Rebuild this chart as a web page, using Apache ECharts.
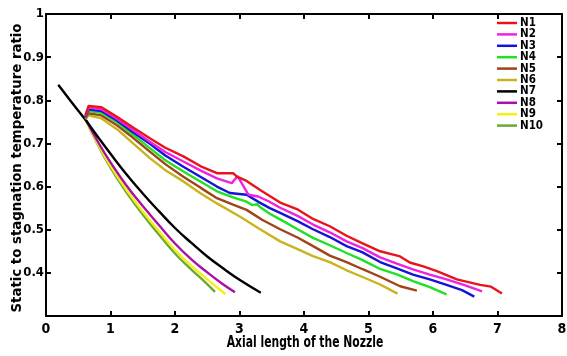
<!DOCTYPE html>
<html>
<head>
<meta charset="utf-8">
<script src="https://cdn.jsdelivr.net/npm/echarts@6/dist/echarts.min.js"></script>
<style>html,body{margin:0;padding:0;background:#fff}#c{width:567px;height:356px}</style>
</head>
<body>
<div id="c"></div>
<script>
var seriesNames = ['N1','N2','N3','N4','N5','N6','N7','N8','N9','N10'];
var seriesColors = ['#e8141c','#f022e0','#1414d8','#22e022','#a04418','#c8b41e','#000000','#a810a8','#f4f014','#6aa838'];
var xTicks = [0,1,2,3,4,5,6,7,8];
var yTicks = [0.3,0.4,0.5,0.6,0.7,0.8,0.9,1.0];
var xTitle = 'Axial length of the Nozzle';
var yTitle = 'Static to stagnation temperature ratio';

var n1X = [0.61,0.66,0.86,1.1,1.35,1.61,1.85,2.13,2.4,2.65,2.9,2.96,3.11,3.32,3.63,3.89,4.14,4.4,4.66,4.9,5.18,5.49,5.64,5.85,6.06,6.37,6.73,6.9,7.07];
var n1Y = [0.765,0.787,0.784,0.762,0.737,0.712,0.690,0.670,0.647,0.631,0.631,0.623,0.613,0.592,0.563,0.548,0.525,0.508,0.486,0.469,0.450,0.438,0.424,0.415,0.404,0.385,0.372,0.368,0.352];
var n2X = [0.61,0.66,0.86,1.1,1.35,1.61,1.85,2.13,2.4,2.65,2.88,2.97,3.14,3.29,3.45,3.63,3.9,4.14,4.4,4.66,4.9,5.18,5.45,5.69,5.95,6.21,6.5,6.76];
var n2Y = [0.763,0.783,0.779,0.757,0.731,0.704,0.680,0.658,0.637,0.619,0.608,0.624,0.581,0.577,0.566,0.551,0.532,0.512,0.494,0.473,0.458,0.436,0.421,0.408,0.396,0.385,0.371,0.357];
var n3X = [0.61,0.66,0.86,1.1,1.35,1.61,1.85,2.13,2.4,2.65,2.85,3.11,3.3,3.47,3.63,3.9,4.14,4.4,4.66,4.9,5.18,5.45,5.69,5.95,6.21,6.45,6.64];
var n3Y = [0.761,0.779,0.775,0.753,0.726,0.699,0.672,0.646,0.622,0.600,0.585,0.581,0.564,0.550,0.539,0.520,0.501,0.483,0.462,0.448,0.425,0.410,0.396,0.385,0.372,0.360,0.345];
var n4X = [0.61,0.66,0.86,1.1,1.35,1.61,1.85,2.13,2.4,2.65,2.9,3.11,3.2,3.27,3.35,3.47,3.63,3.9,4.14,4.4,4.66,4.9,5.18,5.45,5.69,5.95,6.21];
var n4Y = [0.760,0.775,0.771,0.749,0.720,0.689,0.661,0.635,0.611,0.589,0.575,0.565,0.557,0.559,0.549,0.537,0.524,0.501,0.481,0.464,0.446,0.430,0.409,0.396,0.381,0.367,0.350];
var n5X = [0.61,0.66,0.86,1.1,1.35,1.61,1.85,2.13,2.4,2.65,2.9,3.11,3.35,3.63,3.9,4.14,4.4,4.66,4.9,5.18,5.49,5.75];
var n5Y = [0.758,0.770,0.765,0.742,0.713,0.681,0.652,0.623,0.597,0.573,0.558,0.546,0.523,0.501,0.482,0.462,0.440,0.425,0.409,0.391,0.369,0.359];
var n6X = [0.61,0.66,0.86,1.1,1.35,1.61,1.85,2.13,2.4,2.65,3.01,3.3,3.63,3.9,4.14,4.4,4.66,4.9,5.18,5.45];
var n6Y = [0.756,0.765,0.758,0.733,0.700,0.666,0.638,0.612,0.584,0.561,0.530,0.503,0.473,0.455,0.439,0.425,0.406,0.391,0.373,0.352];
var n7X = [0.19,0.4,0.6,0.8,1.0,1.25,1.5,1.75,2.0,2.25,2.5,2.75,3.0,3.33];
var n7Y = [0.836,0.795,0.757,0.716,0.676,0.628,0.584,0.543,0.504,0.470,0.438,0.410,0.384,0.354];
var n8X = [0.6,0.8,1.0,1.25,1.5,1.75,2.0,2.25,2.5,2.75,2.93];
var n8Y = [0.760,0.705,0.656,0.602,0.555,0.511,0.468,0.432,0.401,0.373,0.355];
var n9X = [0.6,0.8,1.0,1.25,1.5,1.75,2.0,2.25,2.5,2.78];
var n9Y = [0.760,0.700,0.648,0.592,0.542,0.497,0.453,0.417,0.385,0.351];
var n10X = [0.6,0.8,1.0,1.25,1.5,1.75,2.0,2.25,2.45,2.62];
var n10Y = [0.760,0.698,0.644,0.586,0.535,0.489,0.445,0.408,0.381,0.356];

var allX = [n1X,n2X,n3X,n4X,n5X,n6X,n7X,n8X,n9X,n10X];
var allY = [n1Y,n2Y,n3Y,n4Y,n5Y,n6Y,n7Y,n8Y,n9Y,n10Y];

var FONT = "'Liberation Sans Narrow','DejaVu Sans Condensed','Liberation Sans',Arial,sans-serif";

function pairs(xs, ys){ return xs.map(function(x,i){ return [x, ys[i]]; }); }

var series = seriesNames.map(function(name, i){
  return {
    name: name, type: 'line', data: pairs(allX[i], allY[i]),
    showSymbol: false, smooth: i >= 6, xAxisIndex: 0, yAxisIndex: 0,
    lineStyle: {color: seriesColors[i], width: 2.4},
    itemStyle: {color: seriesColors[i]},
    z: 10 - i
  };
});

var chart = echarts.init(document.getElementById('c'), null, {renderer: 'canvas'});
chart.setOption({
  animation: false,
  backgroundColor: '#ffffff',
  grid: {left: 46, right: 5, top: 14, bottom: 40, containLabel: false, outerBoundsMode: 'none'},
  legend: {
    orient: 'vertical', left: 492, top: 12,
    data: seriesNames,
    icon: 'rect', itemWidth: 20, itemHeight: 2.5, itemGap: -0.6,
    textStyle: {fontFamily: FONT, fontWeight: 'bold', fontSize: 11.5, color: '#000', lineHeight: 11, padding: [0,0,0,-2]}
  },
  graphic: [{
    type: 'text', x: 305, y: 343, scaleX: 0.8,
    style: {text: xTitle, fontFamily: FONT, fontWeight: 'bold', fontSize: 15, fill: '#000', textAlign: 'center', textVerticalAlign: 'middle'}
  }],
  xAxis: [{
    type: 'value', min: 0, max: 8, interval: 1, position: 'bottom',
    axisLine: {show: true, onZero: false, lineStyle: {color: '#000', width: 2}},
    axisTick: {show: true, inside: true, length: 5, lineStyle: {color: '#000', width: 2}},
    axisLabel: {fontFamily: FONT, fontWeight: 'bold', fontSize: 14, color: '#000', margin: 6,
      formatter: function(v){ return xTicks.indexOf(v) >= 0 ? String(v) : ''; }},
    splitLine: {show: false}
  },{
    type: 'value', min: 0, max: 8, interval: 1, position: 'top',
    axisLine: {show: true, onZero: false, lineStyle: {color: '#000', width: 2}},
    axisTick: {show: true, inside: true, length: 5, lineStyle: {color: '#000', width: 2}},
    axisLabel: {show: false}, splitLine: {show: false}
  }],
  yAxis: [{
    type: 'value', min: 0.3, max: 1, interval: 0.1, position: 'left',
    name: yTitle, nameLocation: 'middle', nameGap: 21, nameMoveOverlap: false,
    nameTextStyle: {fontFamily: FONT, fontWeight: 'bold', fontSize: 14.8, color: '#000', padding: [0,6,0,0]},
    axisLine: {show: true, onZero: false, lineStyle: {color: '#000', width: 2}},
    axisTick: {show: true, inside: true, length: 5, lineStyle: {color: '#000', width: 2}},
    axisLabel: {fontFamily: FONT, fontWeight: 'bold', fontSize: 13, color: '#000', margin: 2,
      formatter: function(v){
        var r = Math.round(v*10)/10;
        if (r <= yTicks[0]) return '';
        return r === 1 ? '1' : r.toFixed(1);
      }},
    splitLine: {show: false}
  },{
    type: 'value', min: 0.3, max: 1, interval: 0.1, position: 'right',
    axisLine: {show: true, onZero: false, lineStyle: {color: '#000', width: 2}},
    axisTick: {show: true, inside: true, length: 5, lineStyle: {color: '#000', width: 2}},
    axisLabel: {show: false}, splitLine: {show: false}
  }],
  series: series
});
</script>
</body>
</html>
